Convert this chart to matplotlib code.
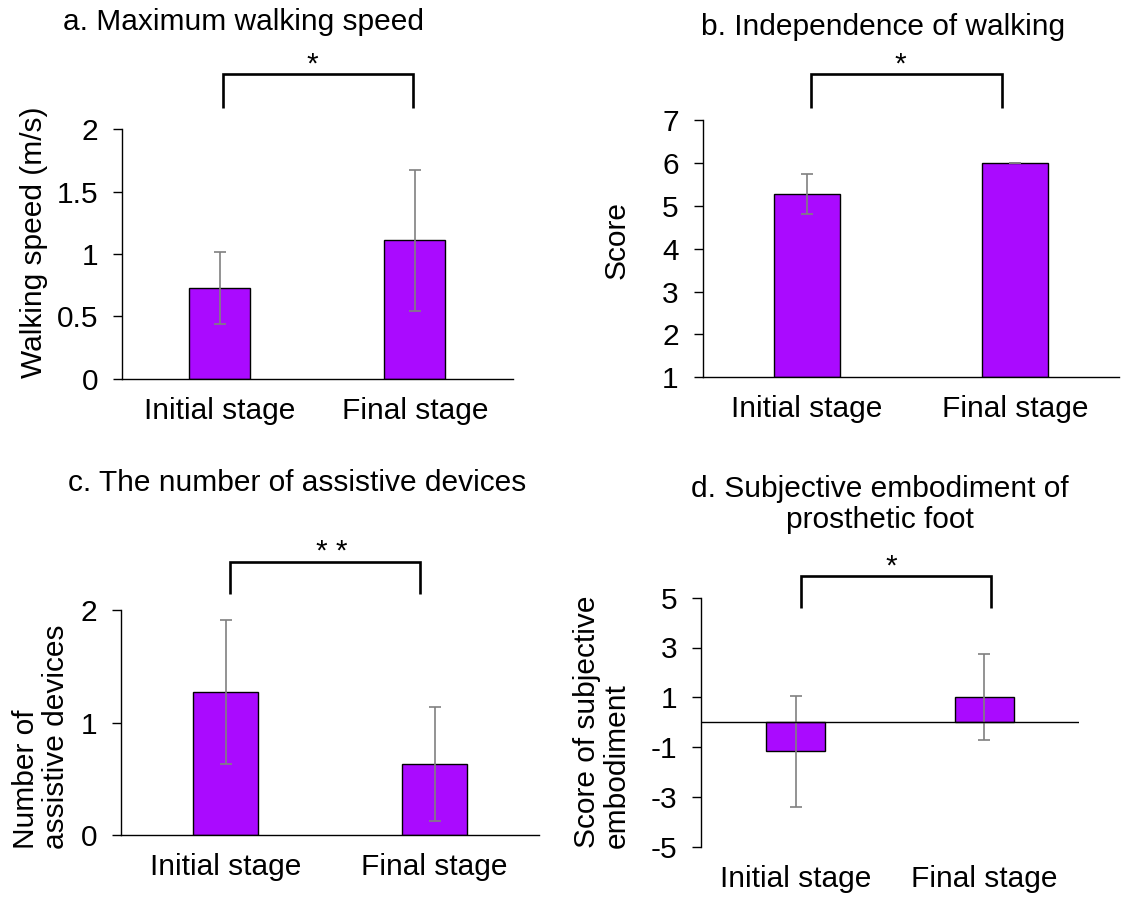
import matplotlib
matplotlib.use("Agg")
import matplotlib.pyplot as plt
import numpy as np

plt.rcParams['font.family'] = ['Liberation Sans', 'DejaVu Sans']
plt.rcParams['axes.unicode_minus'] = False

# ---------------- data ----------------
categories = ["Initial stage", "Final stage"]

speed_mean = [0.73, 1.11]
speed_err = [0.29, 0.565]

indep_mean = [5.27, 6.0]
indep_err = [0.465, 0.0]

devices_mean = [1.27, 0.63]
devices_err = [0.642, 0.504]

embod_mean = [-1.17, 1.0]
embod_err = [2.22, 1.73]

titles = ["a. Maximum walking speed",
          "b. Independence of walking",
          "c. The number of assistive devices",
          "d. Subjective embodiment of\nprosthetic foot"]
ylabels = ["Walking speed (m/s)", "Score",
           "Number of\nassistive devices", "Score of subjective\nembodiment"]
sig_labels = ["*", "*", "* *", "*"]

yticks_a = [0, 0.5, 1, 1.5, 2]
yticks_b = [1, 2, 3, 4, 5, 6, 7]
yticks_c = [0, 1, 2]
yticks_d = [-5, -3, -1, 1, 3, 5]

# ---------------- style ----------------
W, H = 1122, 898
FS = 21.5
BAR_COLOR = "#AA0AFF"
ERR_COLOR = "#808080"

fig = plt.figure(figsize=(W / 100, H / 100), dpi=100)


def rect(x0, x1, ytop, ybot):
    return [x0 / W, 1 - ybot / H, (x1 - x0) / W, (ybot - ytop) / H]


def fmt(v):
    return ("%g" % v)


def panel(r, means, errs, ylim, yticks, bottom, bracket, sig, zero_line=False):
    ax = fig.add_axes(r)
    x = np.arange(len(categories))
    heights = np.array(means) - bottom
    ax.bar(x, heights, bottom=bottom, width=0.313, color=BAR_COLOR,
           edgecolor="black", linewidth=1.0, zorder=2)
    ax.errorbar(x, means, yerr=errs, fmt="none", ecolor=ERR_COLOR,
                elinewidth=1.2, capsize=4, capthick=1.2, zorder=3)
    ax.set_xlim(-0.5, 1.5)
    ax.set_ylim(*ylim)
    ax.set_yticks(yticks)
    ax.set_yticklabels([fmt(v) for v in yticks], fontsize=FS)
    ax.set_xticks(x)
    ax.set_xticklabels(categories, fontsize=FS)
    ax.tick_params(axis="x", length=0, pad=13)
    ax.tick_params(axis="y", length=6.5, width=1.0, pad=11, direction="out")
    for s in ["top", "right"]:
        ax.spines[s].set_visible(False)
    ax.spines["left"].set_linewidth(1.0)
    ax.spines["bottom"].set_linewidth(1.0)
    if zero_line:
        ax.spines["bottom"].set_visible(False)
        ax.axhline(0, color="black", linewidth=1.0, zorder=4)
    ax.set_facecolor("none")
    # significance bracket
    x0, x1, ytop, ybot, sx = bracket
    ax.plot([x0, x0, x1, x1], [ybot, ytop, ytop, ybot], color="black",
            linewidth=1.9, clip_on=False, solid_capstyle="butt",
            solid_joinstyle="miter")
    ax.annotate(sig, xy=(sx, ytop), xytext=(0, 1), textcoords="offset points",
                ha="center", va="baseline", fontsize=FS, annotation_clip=False)
    return ax


panel(rect(122.3, 512.5, 129.3, 378.7), speed_mean, speed_err, (0, 2),
      yticks_a, 0, (0.016, 0.99, 2.443, 2.173, 0.476), sig_labels[0])
panel(rect(703, 1119, 120, 377.3), indep_mean, indep_err, (1, 7),
      yticks_b, 1, (0.02, 0.937, 8.07, 7.28, 0.45), sig_labels[1])
panel(rect(121.3, 539, 610, 835), devices_mean, devices_err, (0, 2),
      yticks_c, 0, (0.02, 0.93, 2.43, 2.14, 0.506), sig_labels[2])
panel(rect(701.3, 1078.5, 597.7, 846.7), embod_mean, embod_err, (-5, 5),
      yticks_d, 0, (0.028, 1.038, 5.88, 4.57, 0.505), sig_labels[3],
      zero_line=True)

# titles
title_pos = [(243.8, 21.7), (883, 26.7), (297.3, 483.3), (879.9, 504.2)]
for t, (tx, ty) in zip(titles, title_pos):
    fig.text(tx / W, 1 - ty / H, t, ha="center", va="center", fontsize=FS,
             multialignment="center", linespacing=1.15)

# y labels
ylabel_pos = [(34, 242.5), (617, 240), (40.7, 736.5), (602, 722)]
for t, (tx, ty) in zip(ylabels, ylabel_pos):
    fig.text(tx / W, 1 - ty / H, t, ha="center", va="center", fontsize=FS,
             rotation=90, multialignment="left", linespacing=1.1)

fig.savefig("out.png", dpi=100, facecolor="white")
